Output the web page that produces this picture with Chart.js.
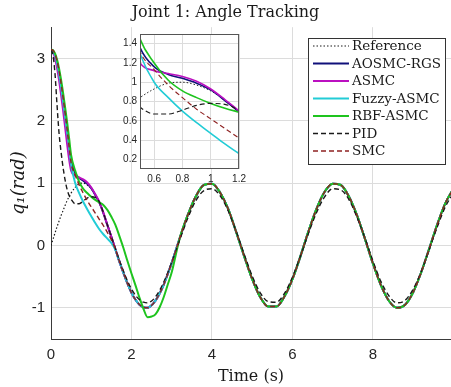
<!DOCTYPE html>
<html>
<head>
<meta charset="utf-8">
<script src="https://cdn.jsdelivr.net/npm/chart.js@4.4.1/dist/chart.umd.min.js"></script>
<style>
  body { margin: 0; background: #fff; }
  #wrap { position: relative; width: 451px; height: 387px; }
  #principal { position: absolute; left: 0; top: 0; }
  #inset { position: absolute; left: 100px; top: 25px; }
</style>
</head>
<body>
<div id="wrap">
  <canvas id="principal" width="451" height="387"></canvas>
  <canvas id="inset" width="150" height="165"></canvas>
</div>
<script>
// tempo (s)
const tempo = [
  0, 0.05, 0.1, 0.15, 0.2, 0.25, 0.3, 0.35, 0.4, 0.45, 0.5,
  0.6, 0.7, 0.8, 0.9, 1.0, 1.1, 1.2, 1.3, 1.4, 1.5, 1.6, 1.7, 1.8, 1.9, 2.0,
  2.1, 2.2, 2.3, 2.4, 2.5, 2.6, 2.7, 2.8, 2.9, 3.0,
  3.2, 3.4, 3.6, 3.8, 4.0, 4.2, 4.4, 4.6, 4.8, 5.0, 5.2, 5.4, 5.6, 5.8, 6.0,
  6.2, 6.4, 6.6, 6.8, 7.0, 7.2, 7.4, 7.6, 7.8, 8.0, 8.2, 8.4, 8.6, 8.8, 9.0,
  9.2, 9.4, 9.6, 9.8, 10.0
];

// trecho final (t >= 3.2) onde os controladores seguem a referência
const rastreado = [
  0.12, 0.49, 0.79, 0.97, 0.99, 0.85, 0.59, 0.22, -0.17, -0.54,
  -0.83, -0.98, -0.98, -0.82, -0.54, -0.17, 0.23, 0.59, 0.86, 0.99,
  0.97, 0.79, 0.49, 0.11, -0.29, -0.64, -0.89, -1.00, -0.95, -0.75,
  -0.43, -0.05, 0.34, 0.68, 0.91
];

// trechos iniciais (t = 0 ... 3.0)
const referencia = [
  0, 0.10, 0.20, 0.30, 0.39, 0.48, 0.56, 0.64, 0.72, 0.78, 0.84,
  0.93, 0.99, 1.00, 0.97, 0.91, 0.81, 0.68, 0.52, 0.33, 0.14, -0.06, -0.26, -0.44, -0.61, -0.76,
  -0.87, -0.95, -0.99, -1.00, -0.96, -0.88, -0.77, -0.63, -0.46, -0.28
];
const aosmcRgs = [
  3.14, 3.12, 3.05, 2.94, 2.78, 2.58, 2.35, 2.10, 1.85, 1.60, 1.36,
  1.16, 1.08, 1.04, 0.99, 0.92, 0.81, 0.69, 0.52, 0.33, 0.14, -0.06, -0.26, -0.44, -0.61, -0.76,
  -0.87, -0.95, -0.99, -1.00, -0.96, -0.88, -0.77, -0.63, -0.46, -0.28
];
const asmc = [
  3.14, 3.10, 3.00, 2.85, 2.65, 2.42, 2.17, 1.90, 1.63, 1.38, 1.20,
  1.12, 1.09, 1.06, 1.01, 0.93, 0.82, 0.70, 0.53, 0.33, 0.14, -0.06, -0.26, -0.44, -0.61, -0.76,
  -0.87, -0.95, -0.99, -1.00, -0.96, -0.88, -0.77, -0.63, -0.46, -0.28
];
const fuzzyAsmc = [
  3.14, 3.12, 3.05, 2.93, 2.76, 2.55, 2.32, 2.07, 1.82, 1.58, 1.30,
  1.00, 0.84, 0.70, 0.58, 0.47, 0.36, 0.26, 0.18, 0.11, 0.04, -0.07, -0.26, -0.44, -0.61, -0.76,
  -0.87, -0.95, -0.99, -1.00, -0.96, -0.88, -0.77, -0.63, -0.46, -0.28
];
const rbfAsmc = [
  3.14, 3.13, 3.08, 2.98, 2.84, 2.66, 2.45, 2.22, 1.98, 1.72, 1.45,
  1.20, 1.02, 0.91, 0.84, 0.78, 0.73, 0.69, 0.65, 0.57, 0.46, 0.33, 0.15, -0.04, -0.25, -0.45,
  -0.64, -0.84, -1.02, -1.15, -1.14, -1.10, -0.99, -0.83, -0.63, -0.43
];
const pid = [
  3.14, 3.05, 2.75, 2.25, 1.80, 1.50, 1.25, 1.05, 0.90, 0.80, 0.74,
  0.67, 0.67, 0.71, 0.76, 0.78, 0.77, 0.70, 0.53, 0.33, 0.14, -0.05, -0.24, -0.41, -0.57, -0.70,
  -0.80, -0.87, -0.91, -0.92, -0.89, -0.82, -0.72, -0.59, -0.44, -0.27
];
const pidFinal = [
  0.09, 0.44, 0.72, 0.88, 0.91, 0.80, 0.56, 0.23, -0.14, -0.49,
  -0.76, -0.90, -0.91, -0.77, -0.51, -0.17, 0.20, 0.53, 0.78, 0.91,
  0.89, 0.74, 0.46, 0.12, -0.25, -0.58, -0.81, -0.92, -0.88, -0.70,
  -0.42, -0.06, 0.30, 0.62, 0.84
];
const smc = [
  3.14, 3.13, 3.07, 2.96, 2.80, 2.60, 2.37, 2.12, 1.86, 1.58, 1.32,
  1.13, 0.97, 0.84, 0.72, 0.62, 0.52, 0.42, 0.32, 0.21, 0.09, -0.06, -0.26, -0.44, -0.61, -0.76,
  -0.87, -0.95, -0.99, -1.00, -0.96, -0.88, -0.77, -0.63, -0.46, -0.28
];

const nomes = ["Reference", "AOSMC-RGS", "ASMC", "Fuzzy-ASMC", "RBF-ASMC", "PID", "SMC"];
const ticksX = [0, 2, 4, 6, 8];
const ticksY = [-1, 0, 1, 2, 3];
const ticksXInset = [0.6, 0.8, 1, 1.2];
const ticksYInset = [0.2, 0.4, 0.6, 0.8, 1, 1.2, 1.4];

const valores = [
  referencia.concat(rastreado),
  aosmcRgs.concat(rastreado),
  asmc.concat(rastreado),
  fuzzyAsmc.concat(rastreado),
  rbfAsmc.concat(rastreado),
  pid.concat(pidFinal),
  smc.concat(rastreado)
];

const estilos = [
  { cor: "#1a1a1a", largura: 1.2, traco: [1.5, 2] },
  { cor: "#10107a", largura: 2, traco: [] },
  { cor: "#bb10c0", largura: 2, traco: [] },
  { cor: "#22ccd6", largura: 2, traco: [] },
  { cor: "#1ec41e", largura: 2, traco: [] },
  { cor: "#1a1a1a", largura: 1.4, traco: [5, 3] },
  { cor: "#8e2222", largura: 1.4, traco: [5, 3] }
];

const fonteSans = "'Liberation Sans', Arial, sans-serif";
const fonteSerif = "'DejaVu Serif', serif";

function pontos(ys) {
  return tempo.map((t, i) => ({ x: t, y: ys[i] }));
}

function montarDatasets(escala) {
  return nomes.map((nome, i) => ({
    label: nome,
    data: pontos(valores[i]),
    borderColor: estilos[i].cor,
    borderWidth: estilos[i].largura * escala,
    borderDash: estilos[i].traco,
    pointRadius: 0,
    fill: false,
    cubicInterpolationMode: "monotone",
    order: nomes.length - i
  }));
}

// legenda desenhada à mão (caixa no canto superior direito)
const legenda = {
  id: "legenda",
  afterDraw(chart) {
    const ctx = chart.ctx;
    ctx.save();
    ctx.fillStyle = "#fff";
    ctx.fillRect(308.5, 38.5, 137, 126);
    ctx.strokeStyle = "#333";
    ctx.lineWidth = 1;
    ctx.strokeRect(308.5, 38.5, 137, 126);

    ctx.font = "13.5px " + fonteSerif;
    ctx.textBaseline = "middle";
    nomes.forEach((nome, i) => {
      const y = 46 + i * 17.5;
      ctx.strokeStyle = estilos[i].cor;
      ctx.lineWidth = estilos[i].largura;
      ctx.setLineDash(estilos[i].traco);
      ctx.beginPath();
      ctx.moveTo(313, y);
      ctx.lineTo(349, y);
      ctx.stroke();
      ctx.setLineDash([]);
      ctx.fillStyle = "#1a1a1a";
      ctx.fillText(nome, 352, y + 0.5);
    });
    ctx.restore();
  }
};

new Chart(document.getElementById("principal"), {
  type: "line",
  data: { datasets: montarDatasets(1) },
  options: {
    responsive: false,
    animation: false,
    layout: { padding: 0, autoPadding: false },
    plugins: {
      legend: { display: false },
      tooltip: { enabled: false },
      title: {
        display: true,
        text: "Joint 1: Angle Tracking",
        color: "#1a1a1a",
        font: { family: fonteSerif, size: 16, weight: "normal" },
        padding: { top: 3, bottom: 5 }
      }
    },
    scales: {
      x: {
        type: "linear",
        min: 0,
        max: 9.94,
        afterBuildTicks: s => { s.ticks = ticksX.map(v => ({ value: v })); },
        afterFit: s => { s.height = 48; },
        grid: { color: "#dcdcdc", drawTicks: false },
        border: { color: "#3a3a3a" },
        ticks: { color: "#262626", padding: 7, font: { family: fonteSans, size: 15 } },
        title: {
          display: true,
          text: "Time (s)",
          color: "#1a1a1a",
          font: { family: fonteSerif, size: 16 },
          padding: { top: 0, bottom: 1 }
        }
      },
      y: {
        min: -1.5,
        max: 3.5,
        afterBuildTicks: s => { s.ticks = ticksY.map(v => ({ value: v })); },
        afterFit: s => { s.width = 51; },
        grid: { color: "#dcdcdc", drawTicks: false },
        border: { color: "#3a3a3a" },
        ticks: { color: "#262626", padding: 6, font: { family: fonteSans, size: 15 } },
        title: {
          display: true,
          text: "q₁(rad)",
          color: "#1a1a1a",
          font: { family: fonteSerif, size: 18, style: "italic" },
          padding: { top: 9, bottom: 0 }
        }
      }
    }
  },
  plugins: [legenda]
});

// fundo branco e moldura do zoom
const moldura = {
  id: "moldura",
  beforeDraw(chart) {
    const a = chart.chartArea;
    const ctx = chart.ctx;
    ctx.save();
    ctx.fillStyle = "#fff";
    ctx.fillRect(a.left, a.top, a.right - a.left, a.bottom - a.top);
    ctx.restore();
  },
  afterDraw(chart) {
    const a = chart.chartArea;
    const ctx = chart.ctx;
    ctx.save();
    ctx.strokeStyle = "#555";
    ctx.lineWidth = 1;
    ctx.strokeRect(a.left + 0.5, a.top + 0.5, a.right - a.left - 1, a.bottom - a.top - 1);
    ctx.restore();
  }
};

new Chart(document.getElementById("inset"), {
  type: "line",
  data: { datasets: montarDatasets(0.8) },
  options: {
    responsive: false,
    animation: false,
    layout: { padding: { top: 7, right: 7, left: 0, bottom: 0 }, autoPadding: false },
    plugins: { legend: { display: false }, tooltip: { enabled: false } },
    scales: {
      x: {
        type: "linear",
        min: 0.5,
        max: 1.2,
        afterBuildTicks: s => { s.ticks = ticksXInset.map(v => ({ value: v })); },
        afterFit: s => { s.height = 21; },
        grid: { color: "#dcdcdc", drawTicks: false },
        border: { display: false },
        ticks: {
          color: "#262626", padding: 4, font: { family: fonteSans, size: 10 },
          callback: v => String(Math.round(v * 10) / 10)
        }
      },
      y: {
        min: 0.1,
        max: 1.5,
        afterBuildTicks: s => { s.ticks = ticksYInset.map(v => ({ value: v })); },
        afterFit: s => { s.width = 40; },
        grid: { color: "#dcdcdc", drawTicks: false },
        border: { display: false },
        ticks: {
          color: "#262626", padding: 3, font: { family: fonteSans, size: 10 },
          callback: v => String(Math.round(v * 10) / 10)
        }
      }
    }
  },
  plugins: [moldura]
});
</script>
</body>
</html>
